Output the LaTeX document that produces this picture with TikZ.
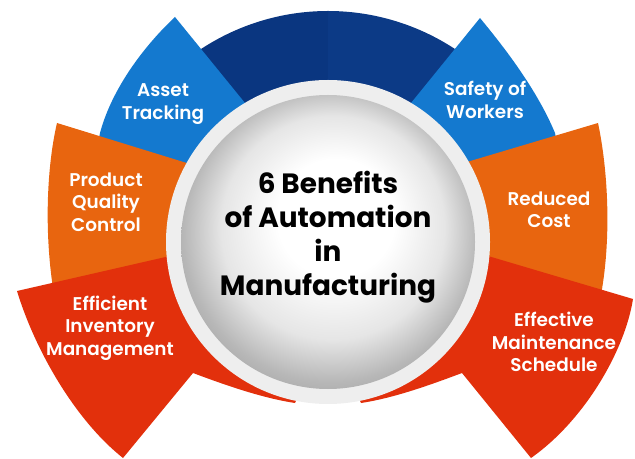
\documentclass[tikz,border=0pt]{standalone}
\usepackage{fontspec}
\setmainfont{Poppins}
\newfontfamily\labelfont{Poppins SemiBold}
\usepackage{tikz}
\usetikzlibrary{calc}
\usetikzlibrary{positioning}

\definecolor{navyL}{HTML}{0A3680}
\definecolor{navyR}{HTML}{0C3A86}
\definecolor{blueseg}{HTML}{1479CF}
\definecolor{orangeseg}{HTML}{E8650F}
\definecolor{redseg}{HTML}{E2300C}
\definecolor{ringgray}{HTML}{EEEEEE}

\pgfdeclareradialshading{bulb}{\pgfpoint{2bp}{6bp}}{color(0bp)=(white); color(10bp)=(white); color(19bp)=(black!10); color(25bp)=(black!28); color(32bp)=(black!42)}

\tikzset{benefit/.style={text=white,align=center,inner sep=0pt,font=\labelfont\fontsize{18.5}{22.5}\selectfont}}

\begin{document}
\begin{tikzpicture}[x=1bp,y=-1bp]
    \useasboundingbox (0,0) rectangle (635,459);
    \pgfmathsetmacro{\R}{162}
    \pgfmathsetmacro{\r}{147}
    \pgfmathsetmacro{\Rn}{231}
    \coordinate (O) at (328,242);

    % top band
    \fill[navyL] (O) -- ++(-140:\Rn) arc[start angle=-140,end angle=-90,radius=\Rn] -- cycle;
    \fill[navyR] (O) -- ++(-90:\Rn) arc[start angle=-90,end angle=-40,radius=\Rn] -- cycle;

    % blue
    \fill[blueseg] (O) -- (245,103) -- (175,17) .. controls (145,45) and (112,88) .. (100,133) -- (92,175) -- cycle;
    \fill[blueseg] (O) -- (411,103) -- (480,18) .. controls (498,40) and (535,85) .. (555,133) -- (563,175) -- cycle;

    % orange
    \fill[orangeseg] (O) -- (190,164) -- (57,123) .. controls (46,170) and (44,240) .. (55,300) -- cycle;
    \fill[orangeseg] (O) -- (467,162) -- (598,123) .. controls (608,170) and (612,240) .. (600,300) -- cycle;

    % red
    \fill[redseg] (O) -- (170,256) -- (17,291) .. controls (35,350) and (75,420) .. (123,458) -- (193,373)
        .. controls (225,385) and (262,398) .. (295,403) -- (305,380) -- cycle;
    \fill[redseg] (O) -- (488,256) -- (633,299) .. controls (625,350) and (585,420) .. (531,458) -- (462,373)
        .. controls (430,385) and (394,398) .. (361,403) -- (350,380) -- cycle;

    % hub
    \fill[ringgray] (O) circle[radius=\R];
    \shade[shading=bulb] (O) circle[radius=\r];

    \node[align=center,font=\bfseries\fontsize{28}{34}\selectfont] (title) at (328,237)
        {6 Benefits\\of Automation\\in\\Manufacturing};

    \node[benefit] (asset) at (163,104) {Asset\\Tracking};
    \node[benefit] (safety) at (485,100) {Safety of\\Workers};
    \node[benefit] (quality) at (106,202) {Product\\Quality\\Control};
    \node[benefit] (cost) at (549,210) {Reduced\\Cost};
    \node[benefit] (inventory) at (110,328) {Efficient\\Inventory\\Management};
    \node[benefit] (maintenance) at (554,342) {Effective\\Maintenance\\Schedule};
\end{tikzpicture}
\end{document}
